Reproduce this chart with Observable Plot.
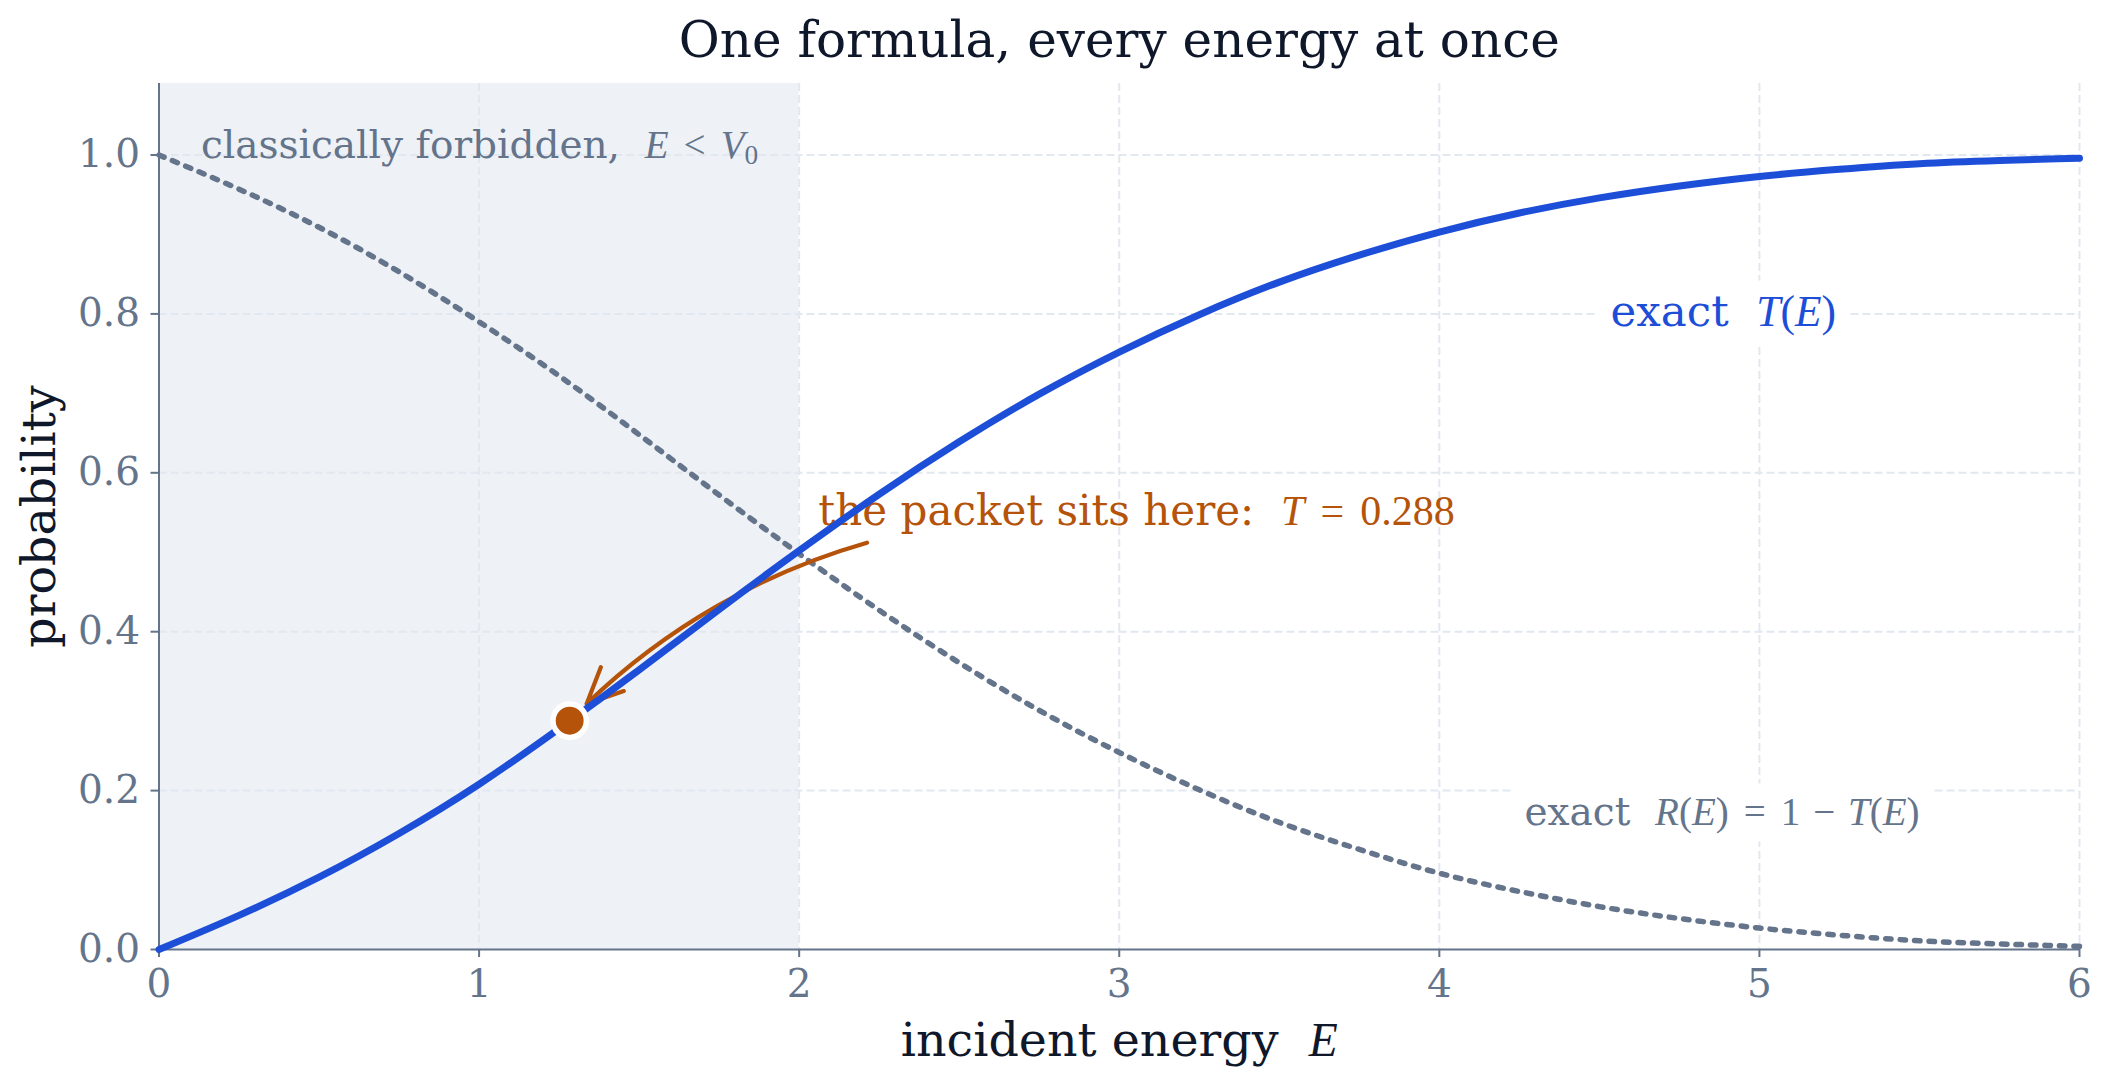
<!DOCTYPE html>
<html><head><meta charset="utf-8">
<script src="https://cdn.jsdelivr.net/npm/d3@7"></script>
<script src="https://cdn.jsdelivr.net/npm/@observablehq/plot@0.6"></script>
<style>html,body{margin:0;padding:0;background:#fff;} svg text{white-space:pre;}</style>
</head><body><div id="chart"></div>
<script>
// ---- data ----
const energy       = [0, 0.25, 0.5, 0.75, 1, 1.25, 1.5, 1.75, 2, 2.25, 2.5, 2.75, 3, 3.25, 3.5, 3.75, 4, 4.25, 4.5, 4.75, 5, 5.25, 5.5, 5.75, 6];
const transmission = [0, 0.043, 0.091, 0.146, 0.208, 0.278, 0.352, 0.428, 0.502, 0.573, 0.639, 0.699, 0.752, 0.799, 0.840, 0.874, 0.903, 0.927, 0.946, 0.961, 0.973, 0.982, 0.989, 0.993, 0.996];
const reflection   = [1.0, 0.957, 0.909, 0.853, 0.790, 0.722, 0.648, 0.572, 0.498, 0.427, 0.361, 0.301, 0.248, 0.201, 0.160, 0.126, 0.096, 0.073, 0.054, 0.039, 0.027, 0.018, 0.011, 0.007, 0.004];
const xTicks = [0, 1, 2, 3, 4, 5, 6];
const yTicks = [0, 0.2, 0.4, 0.6, 0.8, 1.0];
const xDomain = [0, 6];
const yDomain = [0, 1.09];
const barrier = [0, 2];          // classically forbidden region, E < V0
const packet = {E: 1.283, P: 0.288};
const arrowFrom = {E: 2.212, P: 0.512};

// text pieces: [string, kind, gapBeforeEm]  kind: r roman, i math italic, m math upright, sub subscript
const REL = 0.385, BIN = 0.33;
const titleSegs     = [["One formula, every energy at once", "r"]];
const xLabelSegs    = [["incident energy  ", "r"], ["E", "i"]];
const yLabelSegs    = [["probability", "r"]];
const forbiddenSegs = [["classically forbidden,  ", "r"], ["E", "i"], ["<", "m", REL], ["V", "i", REL], ["0", "sub"]];
const packetSegs    = [["the packet sits here:  ", "r"], ["T", "i"], ["=", "m", REL], ["0.288", "m", REL]];
const tLabelSegs    = [["exact  ", "r"], ["T", "i"], ["(", "m"], ["E", "i"], [")", "m"]];
const rLabelSegs    = [["exact  ", "r"], ["R", "i"], ["(", "m"], ["E", "i"], [")", "m"], ["=", "m", REL], ["1", "m", REL], ["\u2212", "m", BIN], ["T", "i", BIN], ["(", "m"], ["E", "i"], [")", "m"]];

const SERIF = "DejaVu Serif";
const MATH = "Liberation Serif";
const C = {blue: "#1d4ed8", orange: "#b45309", slate: "#64748b", ink: "#0f172a", grid: "#e2e8f0", shade: "#eef1f6"};

const plain = segs => segs.map(s => s[0]).join("");
const richMap = new Map([titleSegs, xLabelSegs, yLabelSegs, forbiddenSegs, packetSegs, tLabelSegs, rLabelSegs].map(s => [plain(s), s]));
const boxed = new Set([plain(tLabelSegs), plain(rLabelSegs)]);

const tData = energy.map((e, i) => ({E: e, P: transmission[i]}));
const rData = energy.map((e, i) => ({E: e, P: reflection[i]}));

const svg = Plot.plot({
  width: 2112, height: 1086,
  marginLeft: 158.5, marginRight: 33, marginTop: 83, marginBottom: 137,
  x: {domain: xDomain},
  y: {domain: yDomain},
  style: {fontFamily: SERIF, fontSize: "39px", background: "#fff", overflow: "visible"},
  marks: [
    Plot.rect([{x1: barrier[0], x2: barrier[1], y1: yDomain[0], y2: yDomain[1]}], {x1: "x1", x2: "x2", y1: "y1", y2: "y2", fill: C.shade}),
    Plot.gridX({ticks: xTicks.slice(1), stroke: C.grid, strokeOpacity: 1, strokeWidth: 2, strokeDasharray: "8,4"}),
    Plot.gridY({ticks: yTicks.slice(1), stroke: C.grid, strokeOpacity: 1, strokeWidth: 2, strokeDasharray: "8,4"}),
    Plot.ruleX([xDomain[0]], {stroke: C.slate, strokeWidth: 2}),
    Plot.ruleY([yDomain[0]], {stroke: C.slate, strokeWidth: 2}),
    Plot.axisX({ticks: xTicks, tickSize: 8, tickPadding: 12, tickFormat: d => String(d), color: C.slate, strokeWidth: 2, fontSize: 39, label: null}),
    Plot.axisY({ticks: yTicks, tickSize: 8, tickPadding: 11, tickFormat: d3.format(".1f"), color: C.slate, strokeWidth: 2, fontSize: 39, label: null}),
    Plot.line(rData, {x: "E", y: "P", stroke: C.slate, strokeWidth: 5.5, strokeDasharray: "5.5,9", curve: "natural"}),
    Plot.arrow([{x1: arrowFrom.E, y1: arrowFrom.P, x2: packet.E, y2: packet.P}], {x1: "x1", y1: "y1", x2: "x2", y2: "y2", bend: -15, stroke: C.orange, strokeWidth: 4.2, headLength: 14, headAngle: 50, insetEnd: 24}),
    Plot.text([plain(packetSegs)], {x: 2.060, y: 0.5337, text: d => d, textAnchor: "start", lineAnchor: "bottom", fill: C.orange, fontSize: 42}),
    Plot.line(tData, {x: "E", y: "P", stroke: C.blue, strokeWidth: 7, curve: "natural"}),
    Plot.dot([packet], {x: "E", y: "P", r: 16.7, fill: C.orange, stroke: "#fff", strokeWidth: 5.5}),
    Plot.text([plain(tLabelSegs)], {x: 4.535, y: 0.7854, text: d => d, textAnchor: "start", lineAnchor: "bottom", fill: C.blue, fontSize: 43.5}),
    Plot.text([plain(rLabelSegs)], {x: 4.266, y: 0.1573, text: d => d, textAnchor: "start", lineAnchor: "bottom", fill: C.slate, fontSize: 39}),
    Plot.text([plain(forbiddenSegs)], {x: 0.131, y: 0.9962, text: d => d, textAnchor: "start", lineAnchor: "bottom", fill: C.slate, fontSize: 39}),
    Plot.text([plain(titleSegs)], {frameAnchor: "top", dy: -26.3, text: d => d, textAnchor: "middle", lineAnchor: "bottom", fill: C.ink, fontSize: 50}),
    Plot.text([plain(xLabelSegs)], {frameAnchor: "bottom", dy: 106, text: d => d, textAnchor: "middle", lineAnchor: "bottom", fill: C.ink, fontSize: 47.5}),
    Plot.text([plain(yLabelSegs)], {frameAnchor: "left", dx: -104, rotate: -90, text: d => d, textAnchor: "middle", lineAnchor: "bottom", fill: C.ink, fontSize: 47.5})
  ]
});
document.getElementById("chart").append(svg);

const NS = "http://www.w3.org/2000/svg";
svg.querySelectorAll("text").forEach(t => {
  const key = t.textContent;
  const segs = richMap.get(key);
  if (!segs) return;
  t.textContent = "";
  t.style.whiteSpace = "pre";
  for (const [s, k, gap] of segs) {
    const ts = document.createElementNS(NS, "tspan");
    ts.textContent = s;
    if (k !== "r") ts.setAttribute("font-family", MATH);
    if (k === "i") ts.setAttribute("font-style", "italic");
    if (k === "sub") { ts.setAttribute("font-size", "0.7em"); ts.setAttribute("dy", "0.22em"); }
    if (gap) ts.setAttribute("dx", gap + "em");
    t.append(ts);
  }
  if (boxed.has(key)) {
    const b = t.getBBox();
    const r = document.createElementNS(NS, "rect");
    r.setAttribute("x", b.x - 13);
    r.setAttribute("y", b.y - 5);
    r.setAttribute("width", b.width + 26);
    r.setAttribute("height", b.height + 13);
    r.setAttribute("fill", "#fff");
    if (t.getAttribute("transform")) r.setAttribute("transform", t.getAttribute("transform"));
    t.parentNode.insertBefore(r, t);
  }
});
</script>
</body></html>
